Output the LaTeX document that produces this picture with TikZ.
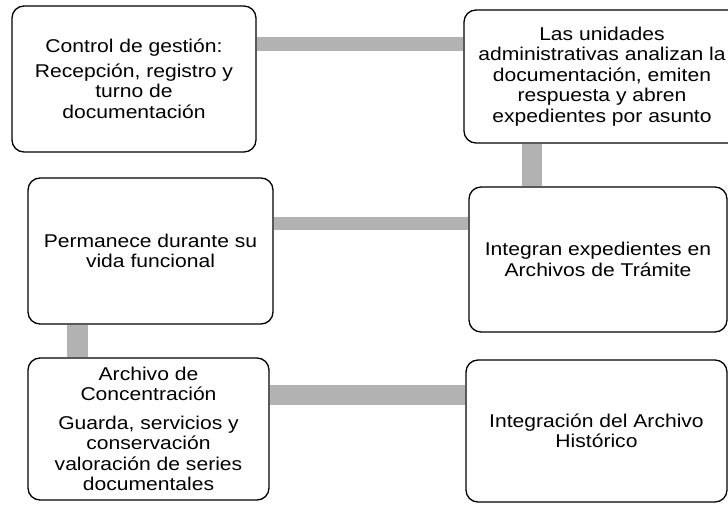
\documentclass[tikz,border=0pt]{standalone}
\usepackage{fontspec}
\setmainfont{Liberation Sans}[FakeStretch=1.14]
\usepackage{tikz}
\usetikzlibrary{backgrounds,calc}
\tikzset{
  caja/.style={draw=black, line width=1.3pt, rounded corners=12pt, align=center,
    inner sep=0pt, font=\fontsize{18.5}{20.5}\selectfont},
  barra/.style={draw=black!30, line cap=butt}
}

\begin{document}
\begin{tikzpicture}[x=1pt,y=1pt]
  \useasboundingbox (0,0) rectangle (728,504);
  % Boxes
  \node[caja, minimum width=244pt, minimum height=146pt] (ctrl) at (134,425)
    {Control de gestión:\\[4pt] Recepción, registro y\\ turno de\\ documentación};
  \node[caja, minimum width=276pt, minimum height=133pt] (unid) at (602,427.5)
    {Las unidades\\ administrativas analizan la\\ documentación, emiten\\ respuesta y abren\\ expedientes por asunto};
  \node[caja, minimum width=245pt, minimum height=146pt] (perm) at (150.5,253)
    {Permanece durante su\\ vida funcional};
  \node[caja, minimum width=258pt, minimum height=145pt] (integ) at (598,244.5)
    {Integran expedientes en\\ Archivos de Trámite};
  \node[caja, minimum width=241pt, minimum height=142pt] (conc) at (148.5,75)
    {Archivo de\\ Concentración\\[8pt] Guarda, servicios y\\ conservación\\ valoración de series\\ documentales};
  \node[caja, minimum width=261pt, minimum height=142pt] (hist) at (596.5,73)
    {Integración del Archivo\\ Histórico};
  % Define coordinates
  \path
    ([yshift=35pt]ctrl.east) coordinate (a1)
    ([xshift=-70pt]unid.south) coordinate (a2)
    ([yshift=27pt]perm.east) coordinate (a3)
    ([xshift=-73pt]perm.south) coordinate (a4)
    ([yshift=34.5pt]conc.east) coordinate (a5)
  ;
  % Gray bars
  \begin{scope}[on background layer]
    \draw[barra, line width=14pt] (a1) -- (a1 -| unid.west);
    \draw[barra, line width=20pt] (a2) -- (a2 |- integ.north);
    \draw[barra, line width=13pt] (a3) -- (a3 -| integ.west);
    \draw[barra, line width=21pt] (a4) -- (a4 |- conc.north);
    \draw[barra, line width=20pt] (a5) -- (a5 -| hist.west);
  \end{scope}
\end{tikzpicture}
\end{document}
